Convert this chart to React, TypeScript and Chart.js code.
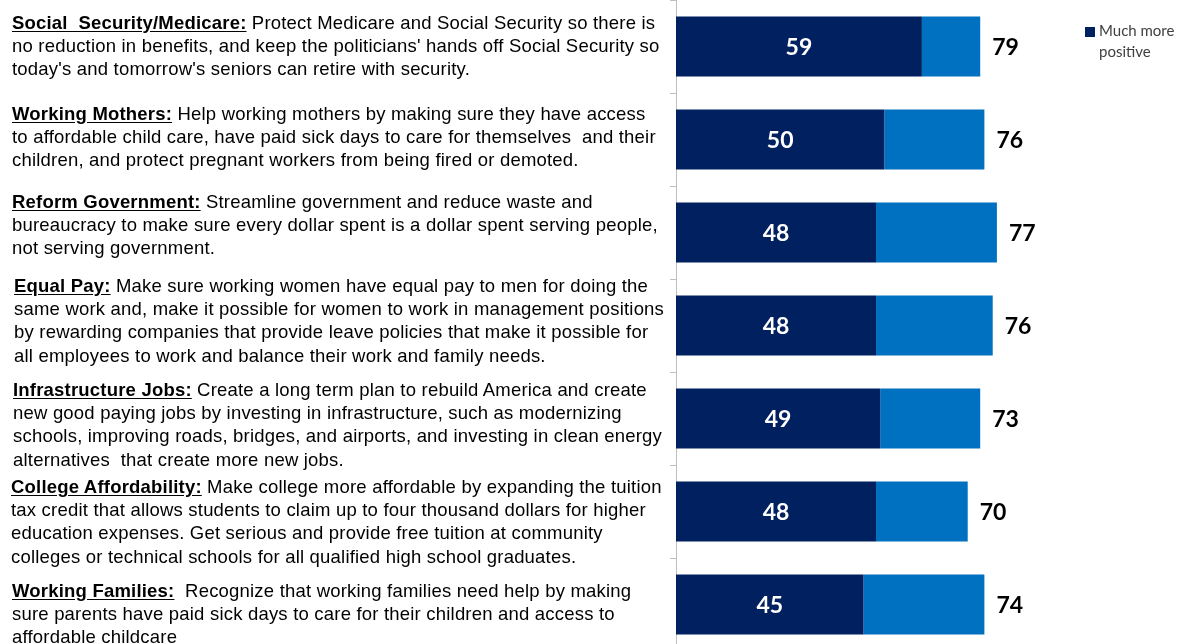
import React, { useEffect, useRef } from "react";
import { Chart, registerables } from "chart.js";

Chart.register(...registerables);

const categories = [
  "Social Security/Medicare",
  "Working Mothers",
  "Reform Government",
  "Equal Pay",
  "Infrastructure Jobs",
  "College Affordability",
  "Working Families",
];

// "Much more positive" share (dark segment)
const muchMorePositive = [59, 50, 48, 48, 49, 48, 45];
// remaining positive share, as drawn (light segment)
const otherPositive = [14, 24, 29, 28, 24, 22, 29];
// total positive labels printed at bar ends
const totalPositive = [79, 76, 77, 76, 73, 70, 74];

const titles = [
  "Social  Security/Medicare:",
  "Working Mothers:",
  "Reform Government:",
  "Equal Pay:",
  "Infrastructure Jobs:",
  "College Affordability:",
  "Working Families:",
];

const descriptions: string[][] = [
  [
    " Protect Medicare and Social Security so there is",
    "no reduction in benefits, and keep the politicians' hands off Social Security so",
    "today's and tomorrow's seniors can retire with security.",
  ],
  [
    " Help working mothers by making sure they have access",
    "to affordable child care, have paid sick days to care for themselves  and their",
    "children, and protect pregnant workers from being fired or demoted.",
  ],
  [
    " Streamline government and reduce waste and",
    "bureaucracy to make sure every dollar spent is a dollar spent serving people,",
    "not serving government.",
  ],
  [
    " Make sure working women have equal pay to men for doing the",
    "same work and, make it possible for women to work in management positions",
    "by rewarding companies that provide leave policies that make it possible for",
    "all employees to work and balance their work and family needs.",
  ],
  [
    " Create a long term plan to rebuild America and create",
    "new good paying jobs by investing in infrastructure, such as modernizing",
    "schools, improving roads, bridges, and airports, and investing in clean energy",
    "alternatives  that create more new jobs.",
  ],
  [
    " Make college more affordable by expanding the tuition",
    "tax credit that allows students to claim up to four thousand dollars for higher",
    "education expenses. Get serious and provide free tuition at community",
    "colleges or technical schools for all qualified high school graduates.",
  ],
  [
    "  Recognize that working families need help by making",
    "sure parents have paid sick days to care for their children and access to",
    "affordable childcare",
  ],
];

// layout: first-line baseline and left edge of each text block
const blockBaselines = [29, 120, 208, 292, 396, 493, 597];
const blockLefts = [12, 12, 12, 14, 13, 11, 12];

const DARK = "#002060";
const LIGHT = "#0070C0";

const labelPlugin = {
  id: "barLabels",
  afterDatasetsDraw(chart: any) {
    const ctx = chart.ctx;
    const m0 = chart.getDatasetMeta(0);
    const m1 = chart.getDatasetMeta(1);
    ctx.save();
    ctx.font = "bold 23px Lato";
    ctx.textBaseline = "middle";
    ctx.textAlign = "center";
    ctx.fillStyle = "#ffffff";
    m0.data.forEach((bar: any, i: number) => {
      const p = bar.getProps(["x", "y", "base"], true);
      ctx.fillText(String(muchMorePositive[i]), (p.x + p.base) / 2, p.y + 1);
    });
    ctx.textAlign = "left";
    ctx.fillStyle = "#000000";
    m1.data.forEach((bar: any, i: number) => {
      const p = bar.getProps(["x", "y"], true);
      ctx.fillText(String(totalPositive[i]), p.x + 12, p.y + 1);
    });
    ctx.restore();
  },
};

export default function App() {
  const ref = useRef<HTMLCanvasElement | null>(null);

  useEffect(() => {
    if (!ref.current) return;
    const chart = new Chart(ref.current, {
      type: "bar",
      data: {
        labels: categories,
        datasets: [
          {
            label: "Much more positive",
            data: muchMorePositive,
            backgroundColor: DARK,
            barPercentage: 0.646,
            categoryPercentage: 1,
          },
          {
            label: "Total positive",
            data: otherPositive,
            backgroundColor: LIGHT,
            barPercentage: 0.646,
            categoryPercentage: 1,
          },
        ],
      },
      options: {
        indexAxis: "y",
        responsive: false,
        animation: false,
        devicePixelRatio: 1,
        layout: { padding: { left: 670, right: 7, top: 0, bottom: 0 } },
        plugins: {
          legend: { display: false },
          tooltip: { enabled: false },
        },
        scales: {
          x: { stacked: true, min: 0, max: 119.5, display: false },
          y: {
            stacked: true,
            ticks: { display: false },
            grid: {
              drawOnChartArea: false,
              drawTicks: true,
              tickLength: 6,
              color: "#bfbfbf",
              offset: true,
            },
            border: { color: "#bfbfbf", width: 1 },
          },
        },
      },
      plugins: [labelPlugin],
    });
    return () => chart.destroy();
  }, []);

  return (
    <div
      style={{
        position: "fixed",
        left: 0,
        top: 0,
        width: 1181,
        height: 644,
        overflow: "hidden",
        background: "#ffffff",
      }}
    >
      <canvas
        ref={ref}
        width={1181}
        height={651}
        style={{ position: "absolute", left: 0, top: 0 }}
      />
      {titles.map((t, i) => (
        <div
          key={i}
          style={{
            position: "absolute",
            left: blockLefts[i],
            top: blockBaselines[i] - 18.1,
            fontFamily: "'Liberation Sans', Arial, sans-serif",
            fontSize: 18.5,
            letterSpacing: "0.2px",
            lineHeight: "23.3px",
            color: "#000",
            whiteSpace: "pre",
          }}
        >
          {descriptions[i].map((line, j) => (
            <div key={j}>
              {j === 0 && (
                <span
                  style={{
                    fontWeight: "bold",
                    textDecoration: "underline",
                    textUnderlineOffset: 2,
                  }}
                >
                  {t}
                </span>
              )}
              {line}
            </div>
          ))}
        </div>
      ))}
      <div
        style={{
          position: "absolute",
          left: 1085,
          top: 27,
          width: 10,
          height: 10,
          background: DARK,
        }}
      />
      <div
        style={{
          position: "absolute",
          left: 1099,
          top: 20,
          fontFamily: "Lato, 'Open Sans', sans-serif",
          fontSize: 15,
          lineHeight: "21px",
          color: "#404040",
          whiteSpace: "nowrap",
        }}
      >
        <div>Much more</div>
        <div>positive</div>
      </div>
    </div>
  );
}
